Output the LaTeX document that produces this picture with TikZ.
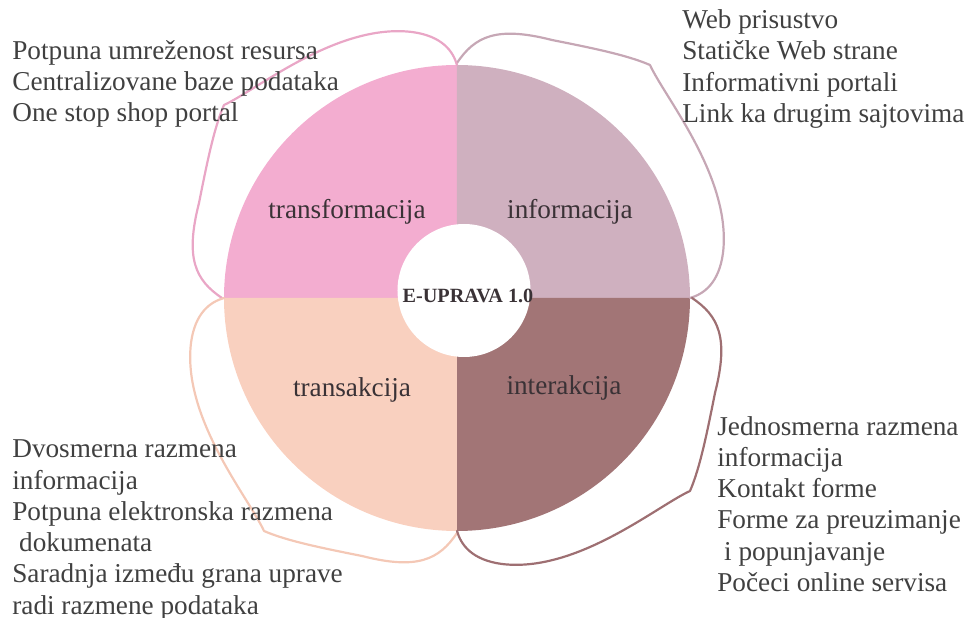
\documentclass[tikz,border=0pt]{standalone}
\usepackage{fontspec}
\setmainfont{Liberation Serif}
\usepackage{tikz}
\definecolor{transfcol}{HTML}{F3ADD0}
\definecolor{infocol}{HTML}{CFB0BF}
\definecolor{intercol}{HTML}{A27576}
\definecolor{transacol}{HTML}{F9D0BF}
\definecolor{transfline}{HTML}{E9A6C6}
\definecolor{infoline}{HTML}{C6A7B5}
\definecolor{interline}{HTML}{9E6F72}
\definecolor{transaline}{HTML}{F4C8B6}
\definecolor{textgray}{HTML}{404040}
\definecolor{labelgray}{HTML}{3A3236}

\begin{document}
\begin{tikzpicture}[x=0.02cm,y=0.02cm,font=\fontsize{15.5}{17.8}\selectfont,
    list/.style={align=left,anchor=west,inner sep=0pt,text=textgray},
    quad/.style={inner sep=0pt,text=labelgray},
    brace/.style={line width=1.25pt,line join=round,line cap=round}]
\useasboundingbox (-457,-320) rectangle (507,298);

% quadrants
\fill[transfcol] (0,0) -- (180:233) arc[start angle=180,end angle=90,radius=233] -- cycle;
\fill[infocol] (0,0) -- (90:233) arc[start angle=90,end angle=0,radius=233] -- cycle;
\fill[intercol] (0,0) -- (0:233) arc[start angle=0,end angle=-90,radius=233] -- cycle;
\fill[transacol] (0,0) -- (-90:233) arc[start angle=-90,end angle=-180,radius=233] -- cycle;
\fill[white] (7,7.5) circle (66.5);

% braces
\foreach \ang/\col in {0/infoline,90/transfline,180/transaline,270/interline}
    \draw[brace,\col,rotate=\ang] (0,235) .. controls (18,262) and (40,272) .. (95,258)
        .. controls (135,250) and (170,243) .. (193,233)
        .. controls (208,200) and (275,120) .. (266,45)
        .. controls (262,15) and (247,4) .. (233,0);

\draw
    node at (-110,86)[quad,name=transf]{transformacija}
    node at (113,86)[quad,name=info]{informacija}
    node at (107,-90)[quad,name=inter]{interakcija}
    node at (-105,-92)[quad,name=transa]{transakcija}
    node at (11,2)[inner sep=0pt,text=labelgray,font=\fontsize{11.5}{13}\selectfont\bfseries,name=eup]{E-UPRAVA 1.0}

    node at (-445,214)[list,name=transflist]{Potpuna umreženost resursa\\Centralizovane baze podataka\\One stop shop portal}
    node at (225,229)[list,name=infolist]{Web prisustvo\\Statičke Web strane\\Informativni portali\\Link ka drugim sajtovima}
    node at (260,-206)[list,name=interlist]{Jednosmerna razmena\\informacija\\Kontakt forme\\Forme za preuzimanje\\\hspace{0.25em}i popunjavanje\\Počeci online servisa}
    node at (-445,-232)[list,name=transalist]{Dvosmerna razmena\\informacija\\Potpuna elektronska razmena\\\hspace{0.25em}dokumenata\\Saradnja između grana uprave\\radi razmene podataka}
;
\end{tikzpicture}
\end{document}
